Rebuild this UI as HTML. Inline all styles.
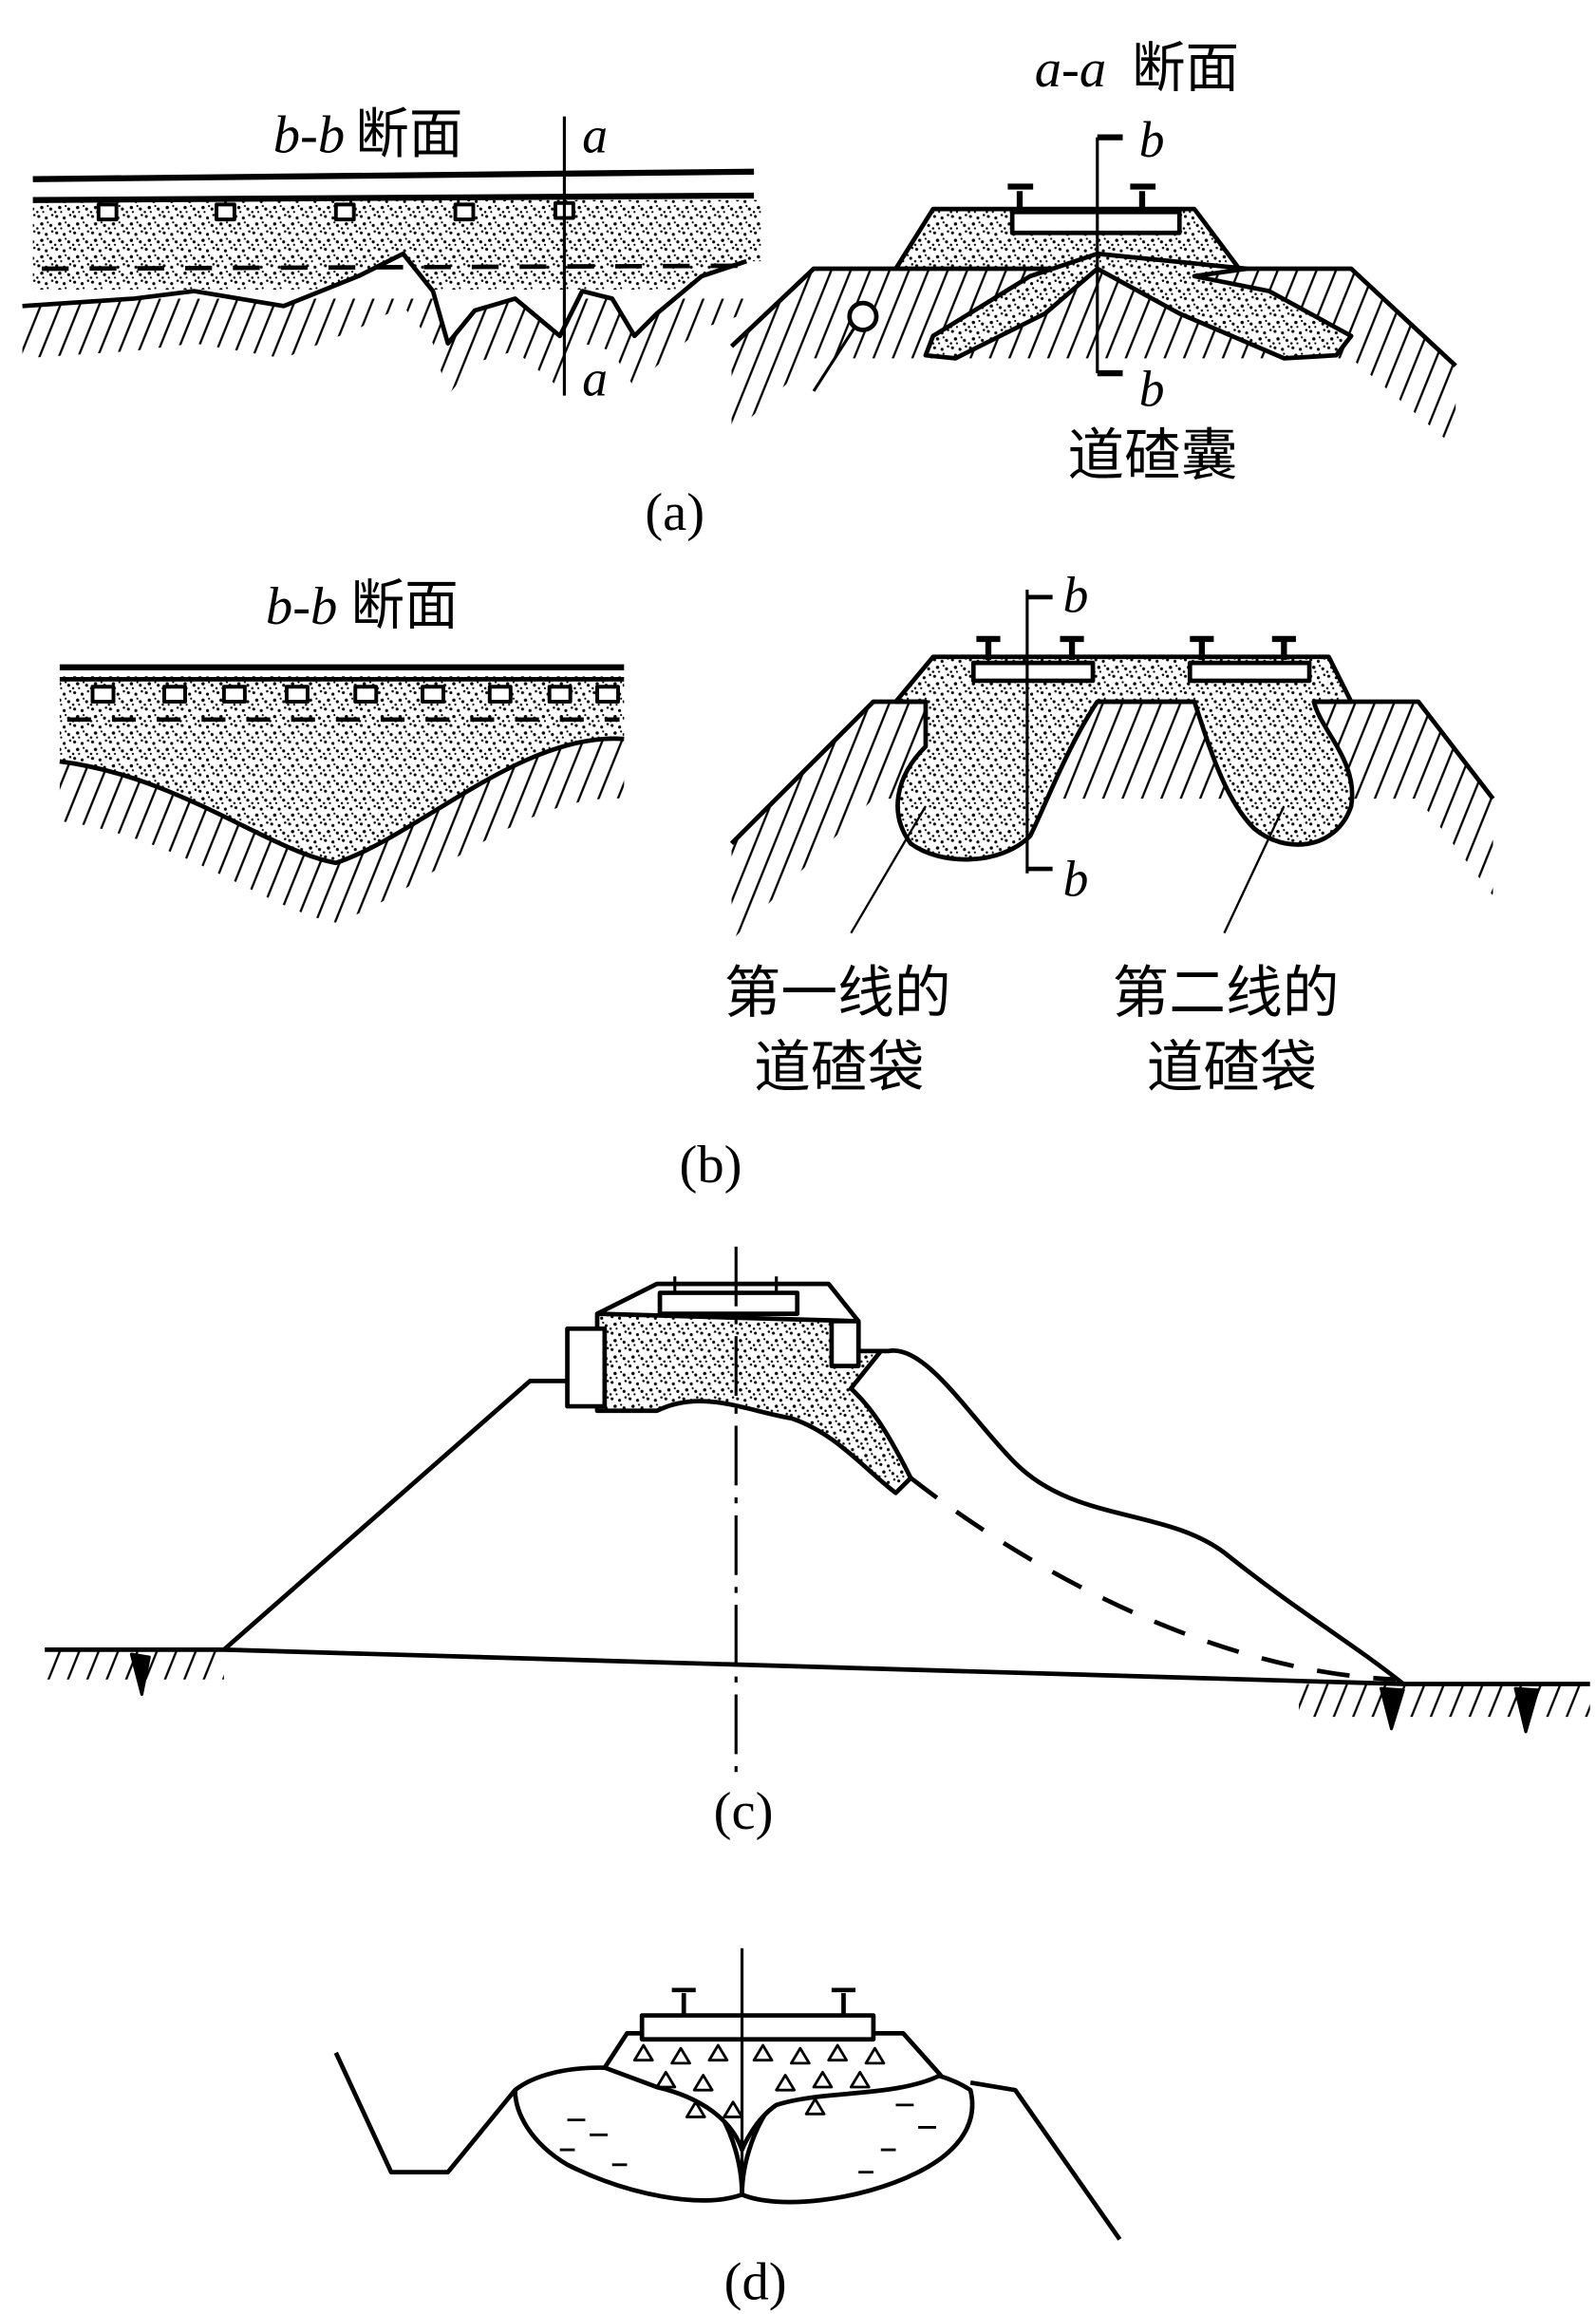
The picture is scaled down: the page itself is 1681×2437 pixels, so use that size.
<!DOCTYPE html>
<html><head><meta charset="utf-8"><style>
html,body{margin:0;padding:0;background:#fff}
svg{display:block}
text{font-family:"Liberation Serif","Noto Serif CJK SC",serif;fill:#000}
.cj{font-family:"Liberation Serif","Noto Sans CJK SC",sans-serif}
</style></head><body>
<svg width="1681" height="2437" viewBox="0 0 1069 1550" preserveAspectRatio="none" xmlns="http://www.w3.org/2000/svg">
<defs>
<pattern id="st" width="12" height="11" patternUnits="userSpaceOnUse">
<rect width="12" height="11" fill="#fff"/>
<circle cx="2" cy="2" r="1" fill="#000"/><circle cx="7" cy="3" r="1" fill="#000"/>
<circle cx="4" cy="7" r="1.1" fill="#000"/><circle cx="10" cy="8" r="1" fill="#000"/>
<circle cx="11" cy="1" r="0.8" fill="#000"/><circle cx="1" cy="10" r="0.8" fill="#000"/>
<circle cx="8" cy="6" r="0.7" fill="#000"/><circle cx="5" cy="10" r="0.7" fill="#000"/>
</pattern>
<pattern id="ht" width="13" height="50" patternUnits="userSpaceOnUse" patternTransform="skewX(-22)">
<line x1="6" y1="0" x2="6" y2="50" stroke="#000" stroke-width="1.6"/>
</pattern>
</defs>
<g stroke="#000" fill="none" stroke-width="3" stroke-linejoin="round">

<!-- (a) left -->
<path d="M15,205 L90,200 L130,195 L190,205 L240,185 L270,170 L290,195 L300,230 L318,208 L345,200 L375,225 L390,195 L410,200 L425,225 L440,210 L470,185 L500,175 L500,210 L470,220 L440,245 L425,260 L410,235 L390,230 L375,260 L345,235 L318,243 L300,265 L290,230 L270,205 L240,220 L190,240 L130,230 L90,235 L15,240Z" fill="url(#ht)" stroke="none"/>
<rect x="22" y="134" width="488" height="60" fill="url(#st)" stroke="none"/>
<path d="M15,205 L90,200 L130,195 L190,205 L240,185 L270,170 L290,195 L300,230 L318,208 L345,200 L375,225 L390,195 L410,200 L425,225 L440,210 L470,185 L500,175 L510,175 L510,200 L15,200Z" fill="#fff" stroke="none"/>
<path d="M15,205 L90,200 L130,195 L190,205 L240,185 L270,170 L290,195 L300,230 L318,208 L345,200 L375,225 L390,195 L410,200 L425,225 L440,210 L470,185 L500,175"/>
<path d="M22,120 L505,115" stroke-width="4"/>
<path d="M22,134 L505,131" stroke-width="4"/>
<g stroke-width="2.5" fill="#fff"><rect x="66" y="137" width="12" height="10"/><rect x="145" y="137" width="12" height="10"/><rect x="225" y="137" width="12" height="10"/><rect x="305" y="137" width="12" height="10"/><rect x="372" y="136" width="12" height="10"/></g>
<path d="M28,180 L500,178" stroke-dasharray="18,14"/>
<line x1="378" y1="78" x2="378" y2="265" stroke-width="2"/>

<!-- (a) right -->
<path d="M490,232 L545,180 L905,180 L975,245 L975,300 L905,240 L545,240 L490,292Z" fill="url(#ht)" stroke="none"/>
<path d="M600,180 L625,140 L800,140 L830,180Z" fill="url(#st)"/>
<path d="M735,170 L690,185 L625,225 L620,238 L640,240 L700,210 L735,180 L790,210 L860,240 L895,238 L905,225 L850,195 L800,185 L835,180Z" fill="url(#st)"/>
<path d="M490,232 L545,180 L600,180"/>
<path d="M830,180 L905,180 L975,245"/>
<rect x="678" y="142" width="112" height="14" fill="#fff"/>
<path d="M683,140 L683,128 M675,125 L692,125 M765,140 L765,128 M757,125 L774,125" stroke-width="4"/>
<circle cx="578" cy="212" r="9" fill="#fff"/>
<line x1="572" y1="220" x2="545" y2="262" stroke-width="2"/>
<line x1="735" y1="92" x2="735" y2="250" stroke-width="2"/>
<path d="M735,92 L752,92 M735,250 L752,250" stroke-width="4"/>

<!-- (b) left -->
<path d="M40,510 C120,520 180,570 225,578 C280,560 350,490 418,495 L418,535 C350,530 280,600 225,618 C180,610 120,560 40,550Z" fill="url(#ht)" stroke="none"/>
<path d="M40,453 L418,453 L418,495 C350,490 280,560 225,578 C180,570 120,520 40,510Z" fill="url(#st)" stroke="none"/>
<path d="M40,510 C120,520 180,570 225,578 C280,560 350,490 418,495"/>
<path d="M40,447 L418,447" stroke-width="4"/><path d="M40,455 L418,455" stroke-width="3"/>
<g stroke-width="2.5" fill="#fff"><rect x="62" y="460" width="14" height="10"/><rect x="110" y="460" width="14" height="10"/><rect x="150" y="460" width="14" height="10"/><rect x="192" y="460" width="14" height="10"/><rect x="238" y="460" width="14" height="10"/><rect x="283" y="460" width="14" height="10"/><rect x="328" y="460" width="14" height="10"/><rect x="368" y="460" width="14" height="10"/><rect x="400" y="460" width="14" height="10"/></g>
<path d="M45,482 L415,482" stroke-dasharray="16,14"/>

<!-- (b) right -->
<path d="M490,565 L585,470 L950,470 L1000,535 L1000,600 L950,535 L585,535 L490,630Z" fill="url(#ht)" stroke="none"/>
<path d="M600,470 L625,440 L890,440 L905,470 L880,470 C885,490 910,510 905,540 C895,570 860,572 840,555 C820,535 810,500 800,470 L735,470 C715,500 700,540 690,560 C670,580 630,580 610,565 C595,545 600,520 620,500 L620,470Z" fill="url(#st)"/>
<path d="M490,565 L585,470 L620,470 M735,470 L800,470 M880,470 L950,470 L1000,535"/>
<rect x="652" y="444" width="80" height="12" fill="#fff"/>
<rect x="797" y="444" width="80" height="12" fill="#fff"/>
<path d="M662,442 L662,430 M654,428 L670,428 M718,442 L718,430 M710,428 L726,428 M805,442 L805,430 M797,428 L813,428 M860,442 L860,430 M852,428 L868,428" stroke-width="4"/>
<line x1="688" y1="395" x2="688" y2="585" stroke-width="2"/>
<path d="M688,400 L705,400 M688,582 L705,582" stroke-width="3"/>
<line x1="570" y1="625" x2="620" y2="540" stroke-width="1.5"/>
<line x1="820" y1="625" x2="860" y2="540" stroke-width="1.5"/>

<!-- (c) -->
<path d="M30,1105 L150,1105 L150,1125 L30,1125Z M870,1128 L1065,1128 L1065,1150 L870,1150Z" fill="url(#ht)" stroke="none"/>
<path d="M30,1105 L150,1105 L940,1128 L1065,1128"/>
<path d="M150,1105 L355,925 L380,925"/>
<path d="M400,880 L440,860 L555,860 L575,885 L575,905 L595,905 C620,900 650,950 680,980 C720,1020 780,1010 820,1040 C870,1080 905,1100 940,1128"/>
<path d="M400,880 L400,945 L440,945 C470,930 500,945 530,950 C560,960 580,985 600,1000 L610,990 C590,950 580,940 570,930 L590,905 L575,905 L575,885Z" fill="url(#st)"/>
<rect x="380" y="890" width="25" height="52" fill="#fff"/>
<rect x="557" y="885" width="18" height="30" fill="#fff"/>
<rect x="442" y="866" width="92" height="14" fill="#fff"/>
<path d="M452,866 L452,855 M520,866 L520,855" stroke-width="2"/>
<path d="M610,990 C700,1060 820,1120 935,1125" stroke-dasharray="22,16"/>
<line x1="493" y1="835" x2="493" y2="1190" stroke-width="2" stroke-dasharray="40,8,4,8"/>
<path d="M88,1108 L95,1135 L100,1110Z M925,1131 L932,1158 L940,1132Z M1015,1131 L1022,1160 L1030,1132Z" fill="#000" stroke-width="2"/>

<!-- (d) -->
<path d="M225,1375 L262,1455 L300,1455 L345,1400 L365,1400"/>
<path d="M650,1395 L680,1400 L750,1500"/>
<path d="M345,1400 C370,1380 430,1380 470,1400 C490,1420 497,1450 497,1470 C470,1480 420,1470 380,1450 C355,1435 345,1415 345,1400Z" fill="#fff"/>
<path d="M650,1400 C620,1380 560,1380 525,1400 C505,1420 497,1450 497,1470 C520,1480 575,1475 615,1455 C645,1440 655,1420 650,1400Z" fill="#fff"/>
<path d="M405,1385 L420,1362 L605,1362 L630,1390 C600,1405 550,1400 520,1410 C505,1420 497,1440 497,1440 C490,1420 470,1405 440,1398 Z" fill="#fff"/>
<rect x="430" y="1350" width="155" height="16" fill="#fff"/>
<path d="M458,1350 L458,1335 M450,1333 L466,1333 M565,1350 L565,1335 M557,1333 L573,1333" stroke-width="3"/>
<line x1="497" y1="1305" x2="497" y2="1470" stroke-width="2"/>
<g stroke-width="1.8">
<path d="M425,1380 l6,-10 l6,10z M450,1382 l6,-10 l6,10z M475,1380 l6,-10 l6,10z M505,1380 l6,-10 l6,10z M530,1382 l6,-10 l6,10z M555,1380 l6,-10 l6,10z M580,1382 l6,-10 l6,10z M440,1398 l6,-10 l6,10z M465,1400 l6,-10 l6,10z M520,1400 l6,-10 l6,10z M545,1398 l6,-10 l6,10z M570,1398 l6,-10 l6,10z M460,1418 l6,-10 l6,10z M485,1418 l6,-10 l6,10z M540,1416 l6,-10 l6,10z"/>
<path d="M380,1420 l12,0 M395,1430 l12,0 M375,1440 l10,0 M600,1410 l12,0 M615,1425 l12,0 M590,1440 l10,0 M410,1450 l10,0 M575,1455 l10,0" />
</g>
</g>

<!-- text -->
<text x="183" y="102" font-size="36" font-style="italic">b-b</text><text x="238" y="102" font-size="36" class="cj">断面</text>
<text x="390" y="102" font-size="34" font-style="italic">a</text>
<text x="390" y="265" font-size="34" font-style="italic">a</text>
<text x="693" y="58" font-size="36" font-style="italic">a-a</text><text x="758" y="58" font-size="36" class="cj">断面</text>
<text x="763" y="105" font-size="34" font-style="italic">b</text>
<text x="763" y="272" font-size="34" font-style="italic">b</text>
<text x="715" y="318" font-size="38" class="cj">道碴囊</text>
<text x="432" y="355" font-size="36">(a)</text>
<text x="178" y="418" font-size="36" font-style="italic">b-b</text><text x="235" y="418" font-size="36" class="cj">断面</text>
<text x="712" y="410" font-size="34" font-style="italic">b</text>
<text x="712" y="600" font-size="34" font-style="italic">b</text>
<text x="485" y="678" font-size="38" class="cj">第一线的</text>
<text x="505" y="728" font-size="38" class="cj">道碴袋</text>
<text x="745" y="678" font-size="38" class="cj">第二线的</text>
<text x="768" y="728" font-size="38" class="cj">道碴袋</text>
<text x="455" y="792" font-size="36">(b)</text>
<text x="478" y="1225" font-size="36">(c)</text>
<text x="485" y="1540" font-size="36">(d)</text>
</svg>
</body></html>
